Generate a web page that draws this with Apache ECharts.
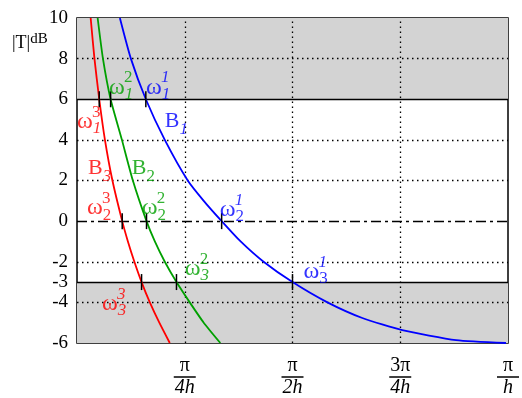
<!DOCTYPE html>
<html>
<head>
<meta charset="utf-8">
<script src="https://cdn.jsdelivr.net/npm/echarts@6/dist/echarts.min.js"></script>
<style>
  html, body { margin: 0; padding: 0; background: #fff; }
  #chart { width: 522px; height: 398px; }
</style>
</head>
<body>
<div id="chart"></div>
<script>
// x in units of pi/h, y in dB
const blueX = [0.0995, 0.125, 0.1597, 0.2037, 0.2569, 0.294, 0.3356, 0.3796, 0.4329, 0.5, 0.581, 0.662, 0.7546, 0.8796, 0.9954];
const blueY = [10, 8, 6, 4, 2, 1, 0, -1, -2, -3, -4, -4.77, -5.37, -5.86, -6];
const greenX = [0.0479, 0.0602, 0.078, 0.1042, 0.1296, 0.1613, 0.1806, 0.2037, 0.2308, 0.2616, 0.294, 0.3326];
const greenY = [10, 8, 6, 4, 2, 0, -1, -2, -3, -4, -5, -6];
const redX = [0.0317, 0.0405, 0.0516, 0.0648, 0.0822, 0.1049, 0.1181, 0.1331, 0.1498, 0.169, 0.191, 0.2153];
const redY = [10, 8, 6, 4, 2, 0, -1, -2, -3, -4, -5, -6];

// crossing levels and the omega frequencies found there
const levels = [6, 0, -3];
const blueOmega = [0.1597, 0.3356, 0.5];
const greenOmega = [0.078, 0.1613, 0.2308];
const redOmega = [0.0516, 0.1049, 0.1498];

const yTickLabels = [10, 8, 6, 4, 2, 0, -2, -3, -4, -6];
const yGrid = [8, 4, 2, -2, -4];
const xGrid = [0.25, 0.5, 0.75];
const xTickNum = { 0.25: 'π', 0.5: 'π', 0.75: '3π', 1: 'π' };
const xTickDen = { 0.25: '4h', 0.5: '2h', 0.75: '4h', 1: 'h' };

// omega annotations: anchor at left edge of the omega, sub and sup index text
const redOmegaLabelX = [0, 0.023, 0.0579];
const redOmegaLabelY = [4.55, 0.30, -4.42];
const redOmegaSub = ['{iI|1}', '{iR|2}', '{iI|3}'];
const redOmegaSup = ['{sR|3}', '{sR|3}', '{sI|3}'];
const greenOmegaLabelX = [0.074, 0.150, 0.25];
const greenOmegaLabelY = [6.24, 0.30, -2.69];
const greenOmegaSub = ['{iI|1}', '{iR|2}', '{iI|3}'];
const greenOmegaSup = ['{sR|2}', '{sR|2}', '{sR|2}'];
const blueOmegaLabelX = [0.16, 0.331, 0.5255];
const blueOmegaLabelY = [6.24, 0.22, -2.83];
const blueOmegaSub = ['{iI|1}', '{iR|2}', '{iR|3}'];
const blueOmegaSup = ['{sI|1}', '{sI|1}', '{sI|1}'];

// curve names B1, B2, B3
const curveLabelX = [0.2037, 0.127, 0.0255];
const curveLabelY = [4.52, 2.22, 2.22];
const curveLabelSub = ['{iI|1}', '{iR|2}', '{iI|3}'];

const SERIF = 'Liberation Serif';
const RED = '#ff0000', GREEN = '#00a000', BLUE = '#0000ff';

function pairs(xs, ys) {
  return xs.map((x, i) => [x, ys[i]]);
}

function richFor(color) {
  const idx = { fontFamily: SERIF, fontSize: 17, color: color, lineHeight: 38 };
  return {
    w: { fontFamily: SERIF, fontSize: 24, color: color, lineHeight: 28, verticalAlign: 'top' },
    b: { fontFamily: SERIF, fontSize: 22, color: color, lineHeight: 28, verticalAlign: 'top' },
    iI: Object.assign({}, idx, { fontStyle: 'italic' }),
    iR: idx,
    sI: { fontFamily: SERIF, fontSize: 17, color: color, fontStyle: 'italic', lineHeight: 18 },
    sR: { fontFamily: SERIF, fontSize: 17, color: color, lineHeight: 18 }
  };
}

function curve(name, xs, ys, omega, color) {
  return {
    name: name,
    type: 'line',
    data: pairs(xs, ys),
    smooth: 0.2,
    symbol: 'none',
    lineStyle: { color: color, width: 1.8 },
    z: 5,
    markPoint: {
      symbol: 'rect',
      symbolSize: [1.5, 16],
      itemStyle: { color: '#000' },
      label: { show: false },
      data: omega.map((x, i) => ({ coord: [x, levels[i]] })),
      z: 6
    }
  };
}

function labels(xs, ys, texts, color, shift) {
  return {
    type: 'scatter',
    symbol: 'circle',
    symbolSize: 1,
    itemStyle: { color: 'rgba(0,0,0,0)' },
    silent: true,
    data: xs.map((x, i) => ({ value: [x, ys[i]], text: texts[i] })),
    label: {
      show: true,
      position: 'inside',
      align: 'left',
      verticalAlign: 'middle',
      formatter: p => p.data.text,
      rich: richFor(color)
    },
    labelLayout: shift ? { dx: shift[0], dy: shift[1] } : null,
    z: 7
  };
}

function omegaLabels(xs, ys, subs, sups, color) {
  return [
    labels(xs, ys, subs.map(s => '{w|ω}' + s), color),
    labels(xs, ys, sups, color, [15, -16.5])
  ];
}

const chart = echarts.init(document.getElementById('chart'));

chart.setOption({
  animation: false,
  grid: { left: 77, right: 13, top: 18, bottom: 48, show: true, borderColor: '#000', borderWidth: 1.5, backgroundColor: 'transparent' },
  xAxis: {
    type: 'value',
    min: 0,
    max: 1,
    interval: 0.25,
    axisLine: { show: false },
    axisTick: { show: false },
    splitLine: { show: false },
    axisLabel: {
      margin: 14,
      color: '#000',
      formatter: v => xTickNum[v] ? '{n|' + xTickNum[v] + '}\n{bar| }\n{d|' + xTickDen[v] + '}' : '',
      rich: {
        n: { fontFamily: SERIF, fontSize: 20, lineHeight: 18 },
        bar: { width: 22, height: 1.5, lineHeight: 4, backgroundColor: '#000', fontSize: 1 },
        d: { fontFamily: SERIF, fontSize: 20, fontStyle: 'italic', lineHeight: 18 }
      }
    }
  },
  yAxis: {
    type: 'value',
    min: -6,
    max: 10,
    interval: 1,
    axisLine: { show: false },
    axisTick: { show: false },
    splitLine: { show: false },
    axisLabel: {
      margin: 9,
      color: '#000',
      fontFamily: SERIF,
      fontSize: 19,
      formatter: v => yTickLabels.indexOf(v) >= 0 ? String(v) : ''
    }
  },
  graphic: [{
    type: 'text',
    left: 12,
    top: 32,
    style: {
      text: '{a||T|}{s|dB}',
      rich: {
        a: { fontFamily: SERIF, fontSize: 18, color: '#000', verticalAlign: 'bottom', lineHeight: 20 },
        s: { fontFamily: SERIF, fontSize: 15, color: '#000', verticalAlign: 'top', lineHeight: 14 }
      }
    }
  }],
  series: [
    {
      name: 'frame',
      type: 'line',
      data: [],
      silent: true,
      markArea: {
        silent: true,
        itemStyle: { color: '#d3d3d3' },
        data: [
          [{ yAxis: 6 }, { yAxis: 10 }],
          [{ yAxis: -6 }, { yAxis: -3 }]
        ]
      },
      markLine: {
        silent: true,
        symbol: 'none',
        label: { show: false },
        data: [
          ...yGrid.map(v => ({ yAxis: v, lineStyle: { color: '#000', width: 1.3, type: [1.5, 3.5] } })),
          ...xGrid.map(v => ({ xAxis: v, lineStyle: { color: '#000', width: 1.3, type: [1.5, 3.5] } })),
          { yAxis: 6, lineStyle: { color: '#000', width: 1.3, type: 'solid' } },
          { yAxis: -3, lineStyle: { color: '#000', width: 1.3, type: 'solid' } },
          { yAxis: 0, lineStyle: { color: '#000', width: 1.3, type: [10, 4, 3, 4] } }
        ]
      }
    },
    curve('B1', blueX, blueY, blueOmega, BLUE),
    curve('B2', greenX, greenY, greenOmega, GREEN),
    curve('B3', redX, redY, redOmega, RED),
    ...omegaLabels(redOmegaLabelX, redOmegaLabelY, redOmegaSub, redOmegaSup, RED),
    ...omegaLabels(greenOmegaLabelX, greenOmegaLabelY, greenOmegaSub, greenOmegaSup, GREEN),
    ...omegaLabels(blueOmegaLabelX, blueOmegaLabelY, blueOmegaSub, blueOmegaSup, BLUE),
    labels([curveLabelX[0]], [curveLabelY[0]], ['{b|B}' + curveLabelSub[0]], BLUE),
    labels([curveLabelX[1]], [curveLabelY[1]], ['{b|B}' + curveLabelSub[1]], GREEN),
    labels([curveLabelX[2]], [curveLabelY[2]], ['{b|B}' + curveLabelSub[2]], RED)
  ]
});

window.addEventListener('resize', function() {
  chart.resize();
});
</script>
</body>
</html>
